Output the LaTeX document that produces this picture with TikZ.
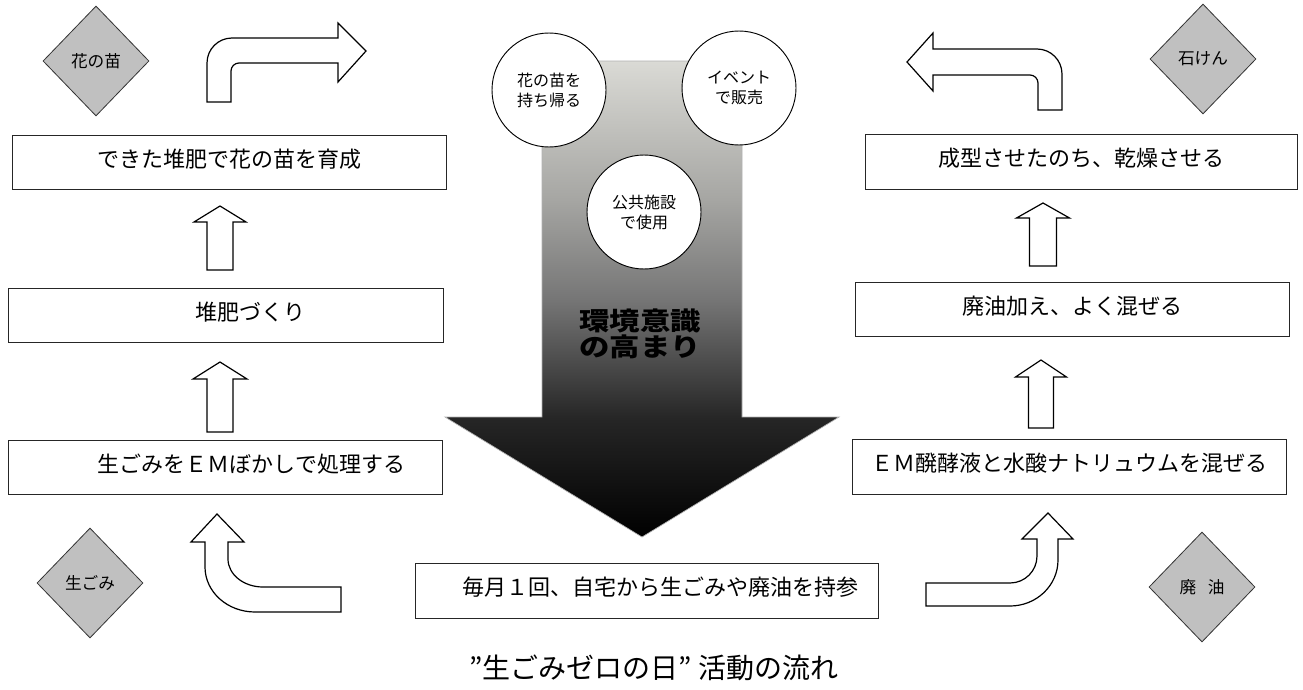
\documentclass[tikz,border=0pt]{standalone}
\usepackage{fontspec}
\usetikzlibrary{shapes.geometric}
\newfontfamily\jp{Noto Sans CJK JP}
\newfontfamily\jpbig{Noto Sans CJK JP}[FakeStretch=1.2]
\definecolor{diagray}{HTML}{C0C0C0}
\definecolor{sA}{HTML}{262626}
\definecolor{sB}{HTML}{767676}
\definecolor{sC}{HTML}{A6A6A3}
\definecolor{sD}{HTML}{DADAD5}
\pgfdeclareverticalshading{bigshade}{100bp}{color(0bp)=(black); color(25bp)=(black); color(37.5bp)=(sA); color(50bp)=(sB); color(60.5bp)=(sC); color(75bp)=(sD); color(100bp)=(sD)}
\begin{document}
\begin{tikzpicture}[x=0.75pt,y=-0.75pt,
  box/.style={draw=black!85, line width=0.75pt, rectangle, inner sep=0pt, text height=0.88em, text depth=0.12em, font=\jp\fontsize{16.5}{18}\selectfont},
  dia/.style={diamond, draw=black!80, fill=diagray, line width=0.6pt, inner sep=0pt, minimum width=79.5pt, minimum height=82.5pt, font=\jp\fontsize{12.5}{14}\selectfont},
  bubble/.style={circle, draw=black, fill=white, line width=0.7pt, minimum size=85.5pt, inner sep=0pt, align=center, font=\jp\fontsize{12}{15}\selectfont},
  blk/.style={draw=black, line width=0.9pt, fill=white, line join=miter}
]
\useasboundingbox (0,0) rectangle (1303,689);
\fill[white] (0,0) rectangle (1303,689);

% big central arrow
\shade[shading=bigshade, draw=gray!60, line width=0.5pt]
  (542,61) -- (742,61) -- (742,417) -- (839,417) -- (642,537) -- (445,417) -- (542,417) -- cycle;
\node[align=center, font=\jpbig\bfseries\fontsize{19}{19.5}\selectfont, text=black] (aware) at (640,334) {環境意識\\の高まり};

% bubbles
\node[bubble] (c1) at (549,90) {花の苗を\\持ち帰る};
\node[bubble] (c2) at (739,88) {イベント\\で販売};
\node[bubble] (c3) at (644,212) {公共施設\\で使用};

% diamonds
\node[dia] (d1) at (96,61) {花の苗};
\node[dia] (d2) at (1203,59) {石けん};
\node[dia] (d3) at (90,583) {生ごみ};
\node[dia] (d4) at (1202,587) {廃\hspace{0.7em}油};

% boxes
\node[box, minimum width=325.5pt, minimum height=40.5pt] (b1) at (229,162) {できた堆肥で花の苗を育成\hspace{9pt}};
\node[box, minimum width=326.25pt, minimum height=40.5pt] (b2) at (225.5,315) {\hspace{38pt}堆肥づくり};
\node[box, minimum width=325.5pt, minimum height=40.5pt] (b3) at (225,467) {\hspace{40pt}生ごみをＥＭぼかしで処理する};
\node[box, minimum width=324pt, minimum height=41.25pt] (r1) at (1081,161.5) {成型させたのち、乾燥させる\hspace{15pt}};
\node[box, minimum width=325.5pt, minimum height=40.5pt] (r2) at (1072,309) {廃油加え、よく混ぜる};
\node[box, minimum width=325.5pt, minimum height=41.25pt] (r3) at (1069,466.5) {ＥＭ醗酵液と水酸ナトリュウムを混ぜる};
\node[box, minimum width=347.25pt, minimum height=41.25pt] (bb) at (646.5,590.5) {\hspace{21pt}毎月１回、自宅から生ごみや廃油を持参};

% title
\node[font=\jp\fontsize{21}{24}\selectfont] (title) at (654,668) {”生ごみゼロの日” 活動の流れ};

% straight up arrows
\draw[blk] (207,270) -- (207,222) -- (194,222) -- (220,206) -- (246,222) -- (233,222) -- (233,270) -- cycle;
\draw[blk] (207,432) -- (207,379) -- (193,379) -- (220,362) -- (247,379) -- (233,379) -- (233,432) -- cycle;
\draw[blk] (1029.5,266) -- (1029.5,218) -- (1016.5,218) -- (1043,203) -- (1069.5,218) -- (1056.5,218) -- (1056.5,266) -- cycle;
\draw[blk] (1028.5,428) -- (1028.5,377) -- (1015.5,377) -- (1041,360) -- (1066.5,377) -- (1053.5,377) -- (1053.5,428) -- cycle;

% top-left bent arrow
\draw[blk] (207,102) -- (207,63) .. controls (207,49.2) and (218.2,38) .. (232,38) -- (338,38) -- (338,23) -- (366,51) -- (338,82) -- (338,63) -- (239,63) .. controls (234.6,63) and (231,66.6) .. (231,71) -- (231,102) -- cycle;

% top-right bent arrow
\draw[blk] (1062,110) -- (1062,74) .. controls (1062,60.2) and (1050.8,49) .. (1037,49) -- (933,49) -- (933,33) -- (907,62) -- (933,91) -- (933,75) -- (1030,75) .. controls (1034.4,75) and (1038,78.6) .. (1038,83) -- (1038,110) -- cycle;

% bottom-left curved arrow
\draw[blk] (205,542) -- (191,542) -- (217,514) -- (244,542) -- (228,542) -- (228,559) .. controls (228,574.5) and (243.7,587) .. (263,587) -- (341,587) -- (341,612) -- (255,612) .. controls (227.4,612) and (205,591.9) .. (205,567) -- cycle;

% bottom-right curved arrow
\draw[blk] (1058,539) -- (1073,539) -- (1048,513) -- (1022,539) -- (1037,539) -- (1037,556) .. controls (1037,570.9) and (1024.9,583) .. (1010,583) -- (926,583) -- (926,606) -- (1010,606) .. controls (1036.5,606) and (1058,585.4) .. (1058,560) -- cycle;
\end{tikzpicture}
\end{document}
